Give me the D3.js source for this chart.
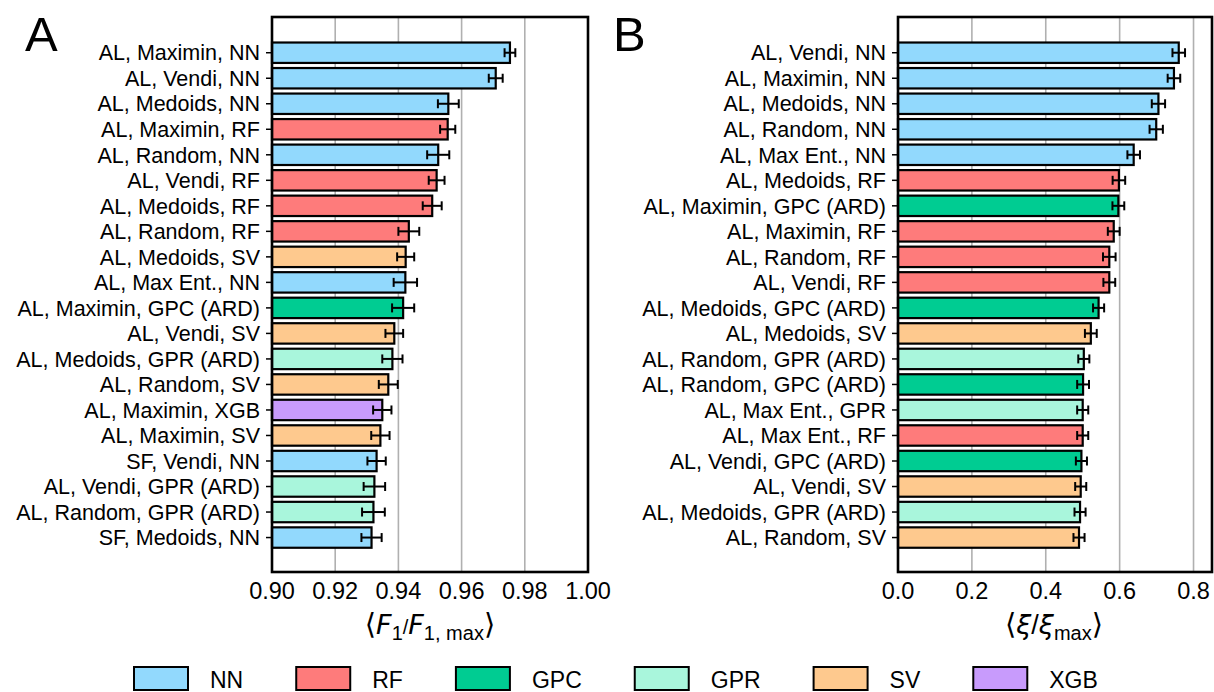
<!DOCTYPE html>
<html>
<head>
<meta charset="utf-8">
<script src="https://cdn.jsdelivr.net/npm/d3@7"></script>
<style>
  body { margin: 0; background: #fff; }
  svg { display: block; font-family: "Liberation Sans", Arial, sans-serif; }
</style>
</head>
<body>
<svg id="chart" width="1214" height="692"></svg>
<script>
// Panel A data: F1 / F1,max
const namesA = ["AL, Maximin, NN", "AL, Vendi, NN", "AL, Medoids, NN", "AL, Maximin, RF", "AL, Random, NN",
    "AL, Vendi, RF", "AL, Medoids, RF", "AL, Random, RF", "AL, Medoids, SV", "AL, Max Ent., NN",
    "AL, Maximin, GPC (ARD)", "AL, Vendi, SV", "AL, Medoids, GPR (ARD)", "AL, Random, SV", "AL, Maximin, XGB",
    "AL, Maximin, SV", "SF, Vendi, NN", "AL, Vendi, GPR (ARD)", "AL, Random, GPR (ARD)", "SF, Medoids, NN"];
const modelsA = ["NN", "NN", "NN", "RF", "NN", "RF", "RF", "RF", "SV", "NN",
    "GPC", "SV", "GPR", "SV", "XGB", "SV", "NN", "GPR", "GPR", "NN"];
const valuesA = [0.9753, 0.9708, 0.9558, 0.9556, 0.9526, 0.9521, 0.9507, 0.9433, 0.9423, 0.9422,
    0.9415, 0.9387, 0.9381, 0.9368, 0.9349, 0.9343, 0.9331, 0.9324, 0.9321, 0.9315];
const errorsA = [0.0017, 0.0022, 0.0033, 0.0024, 0.0035, 0.0025, 0.0030, 0.0033, 0.0027, 0.0037,
    0.0035, 0.0028, 0.0032, 0.0030, 0.0029, 0.0029, 0.0029, 0.0034, 0.0036, 0.0032];
const ticksA = [0.90, 0.92, 0.94, 0.96, 0.98, 1.00];

// Panel B data: xi / xi,max
const namesB = ["AL, Vendi, NN", "AL, Maximin, NN", "AL, Medoids, NN", "AL, Random, NN", "AL, Max Ent., NN",
    "AL, Medoids, RF", "AL, Maximin, GPC (ARD)", "AL, Maximin, RF", "AL, Random, RF", "AL, Vendi, RF",
    "AL, Medoids, GPC (ARD)", "AL, Medoids, SV", "AL, Random, GPR (ARD)", "AL, Random, GPC (ARD)", "AL, Max Ent., GPR",
    "AL, Max Ent., RF", "AL, Vendi, GPC (ARD)", "AL, Vendi, SV", "AL, Medoids, GPR (ARD)", "AL, Random, SV"];
const modelsB = ["NN", "NN", "NN", "NN", "NN", "RF", "GPC", "RF", "RF", "RF",
    "GPC", "SV", "GPR", "GPC", "GPR", "RF", "GPC", "SV", "GPR", "SV"];
const valuesB = [0.760, 0.747, 0.705, 0.699, 0.638, 0.598, 0.5965, 0.584, 0.572, 0.572,
    0.543, 0.522, 0.503, 0.501, 0.500, 0.500, 0.4965, 0.4946, 0.4928, 0.490];
const errorsB = [0.017, 0.017, 0.018, 0.018, 0.017, 0.017, 0.016, 0.016, 0.017, 0.016,
    0.015, 0.016, 0.015, 0.016, 0.015, 0.015, 0.015, 0.015, 0.015, 0.015];
const ticksB = [0.0, 0.2, 0.4, 0.6, 0.8];

// Legend / colours
const modelKeys = ["NN", "RF", "GPC", "GPR", "SV", "XGB"];
const modelColors = ["#92d9fd", "#fe7b7b", "#00cc92", "#a9f6dc", "#fec98e", "#c89bfc"];

const svg = d3.select("#chart");
const color = d3.scaleOrdinal().domain(modelKeys).range(modelColors);

// Function to draw one bar panel
function drawPanel(opts) {
    const { names, models, values, errors, ticks, domain, left, right, fmt, letter, letterX } = opts;
    const top = 17, bottom = 572;
    const x = d3.scaleLinear().domain(domain).range([left, right]);
    const y = d3.scaleLinear().domain([-1.4, 20.35]).range([top, bottom]);
    const barH = 0.8 * (y(1) - y(0));
    const g = svg.append("g");

    // grid lines
    g.selectAll(".grid").data(ticks).enter().append("line")
        .attr("x1", d => x(d)).attr("x2", d => x(d))
        .attr("y1", top).attr("y2", bottom)
        .attr("stroke", "#b0b0b0").attr("stroke-width", 1.6);

    // bars
    g.selectAll(".bar").data(values).enter().append("rect")
        .attr("x", x(domain[0]))
        .attr("y", (d, i) => y(i) - barH / 2)
        .attr("width", d => x(d) - x(domain[0]))
        .attr("height", barH)
        .attr("fill", (d, i) => color(models[i]))
        .attr("stroke", "#000").attr("stroke-width", 2.2);

    // error bars
    const eb = g.selectAll(".err").data(values).enter().append("g")
        .attr("stroke", "#000").attr("stroke-width", 2);
    eb.append("line")
        .attr("x1", (d, i) => x(d - errors[i])).attr("x2", (d, i) => x(d + errors[i]))
        .attr("y1", (d, i) => y(i)).attr("y2", (d, i) => y(i));
    [-1, 1].forEach(s => {
        eb.append("line")
            .attr("x1", (d, i) => x(d + s * errors[i])).attr("x2", (d, i) => x(d + s * errors[i]))
            .attr("y1", (d, i) => y(i) - 4.5).attr("y2", (d, i) => y(i) + 4.5);
    });

    // y ticks + labels
    const yt = g.selectAll(".ytick").data(names).enter().append("g");
    yt.append("line")
        .attr("x1", left - 6).attr("x2", left)
        .attr("y1", (d, i) => y(i)).attr("y2", (d, i) => y(i))
        .attr("stroke", "#000").attr("stroke-width", 1.5);
    yt.append("text")
        .attr("x", left - 12).attr("y", (d, i) => y(i))
        .attr("dy", "0.36em").attr("text-anchor", "end")
        .attr("font-size", 21.5).text(d => d);

    // x tick labels
    g.selectAll(".xlab").data(ticks).enter().append("text")
        .attr("x", d => x(d)).attr("y", bottom + 27)
        .attr("text-anchor", "middle").attr("font-size", 23.5)
        .text(d => fmt(d));

    // frame
    g.append("rect")
        .attr("x", left).attr("y", top)
        .attr("width", right - left).attr("height", bottom - top)
        .attr("fill", "none").attr("stroke", "#000").attr("stroke-width", 2.6);

    // panel letter
    svg.append("text").attr("x", letterX).attr("y", 51)
        .attr("font-size", 49).text(letter);

    return x;
}

const xA = drawPanel({
    names: namesA, models: modelsA, values: valuesA, errors: errorsA, ticks: ticksA,
    domain: [0.90, 1.00], left: 272, right: 588, fmt: d3.format(".2f"), letter: "A", letterX: 25
});
const xB = drawPanel({
    names: namesB, models: modelsB, values: valuesB, errors: errorsB, ticks: ticksB,
    domain: [0, 0.85], left: 898, right: 1212, fmt: d3.format(".1f"), letter: "B", letterX: 613
});

// axis labels (math text)
function mathLabel(cx, parts) {
    const t = svg.append("text").attr("x", cx).attr("y", 634)
        .attr("text-anchor", "middle").attr("font-size", 27);
    parts.forEach(p => {
        const s = t.append("tspan").text(p.t);
        if (p.i) s.attr("font-style", "italic").attr("font-family", "DejaVu Sans");
        if (p.sub) s.attr("font-size", 20).attr("dy", p.sub);
        if (p.br) s.attr("font-family", "DejaVu Sans").attr("font-size", 29);
    });
}
mathLabel(430, [
    { t: "⟨", br: 1 }, { t: "F", i: 1 }, { t: "1", sub: 6 }, { t: "/", sub: -6 },
    { t: "F", i: 1 }, { t: "1, max", sub: 6 }, { t: "⟩", sub: -6, br: 1 }
]);
mathLabel(1054, [
    { t: "⟨", br: 1 }, { t: "ξ", i: 1 }, { t: "/" }, { t: "ξ", i: 1 },
    { t: "max", sub: 6 }, { t: "⟩", sub: -6, br: 1 }
]);

// legend
const leg = svg.append("g");
let lx = 134;
modelKeys.forEach(k => {
    leg.append("rect").attr("x", lx).attr("y", 667).attr("width", 54).attr("height", 23)
        .attr("fill", color(k)).attr("stroke", "#000").attr("stroke-width", 2);
    const t = leg.append("text").attr("x", lx + 76).attr("y", 688)
        .attr("font-size", 23).text(k);
    lx += 129 + t.node().getComputedTextLength();
});
</script>
</body>
</html>
